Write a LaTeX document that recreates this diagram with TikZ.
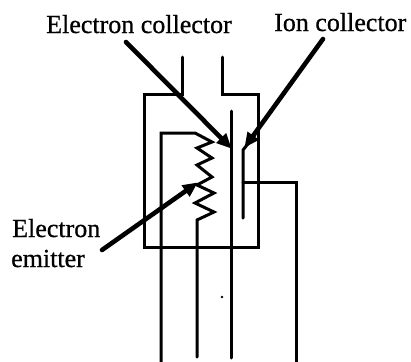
\documentclass[tikz,border=0pt]{standalone}
\usepackage{fontspec}
\setmainfont[FakeBold=0.7]{Liberation Serif}
\usetikzlibrary{arrows.meta}
\tikzset{
  wire/.style={line width=3bp, line join=miter, line cap=round},
  pointer/.style={line width=4.6bp, line cap=round, -{Triangle[length=15bp,width=13bp]}, shorten >=-1bp},
  lbl/.style={inner sep=0pt, font=\fontsize{26bp}{30bp}\selectfont, text depth=0pt, align=left, anchor=base west}
}
\begin{document}
\begin{tikzpicture}[x=1bp,y=-1bp]
\useasboundingbox (0,0) rectangle (411,362);
\coordinate (b1) at (182,94);
\coordinate (s1) at (182,57);
\coordinate (b2) at (222,94);
\coordinate (s2) at (222,57);
% housing
\draw[wire] (s1) -- (b1) -- (144,94) -- (144,247) -- (258,247) -- (258,94) -- (b2) -- (s2);
% collector
\draw[wire] (231,111) -- (231,358);
% ion plate
\coordinate (ip) at (243,150);
\draw[wire] (243,218) -- (ip) -- (255,135);
% emitter filament
\draw[wire] (161,362) -- (161,133) -- (195,133) -- (212,142) -- (197,148) -- (212,158) -- (197,165) -- (212,177) -- (197,185) -- (214,193) -- (195,203) -- (214,212) -- (197,220) -- (197,357);
% ion lead
\draw[wire] (243,182) -- (296,182) -- (296,362);
% speck
\fill (222,297) circle (1.3bp);
% labels
\node[lbl] (ec) at (46,33) {Electron collector};
\node[lbl] (ic) at (274,31) {Ion collector};
\node[lbl] (em) at (12,237) {Electron};
\node[lbl] (em2) at (11,267) {emitter};
% pointers
\coordinate (ea) at (126,42);
\coordinate (et) at (231,148);
\coordinate (ia) at (323,39);
\coordinate (it) at (245,147);
\coordinate (ma) at (102,250);
\coordinate (mt) at (197,183);
\draw[pointer] (ea) -- (et);
\draw[pointer] (ia) -- (it);
\draw[pointer] (ma) -- (mt);
\end{tikzpicture}
\end{document}
